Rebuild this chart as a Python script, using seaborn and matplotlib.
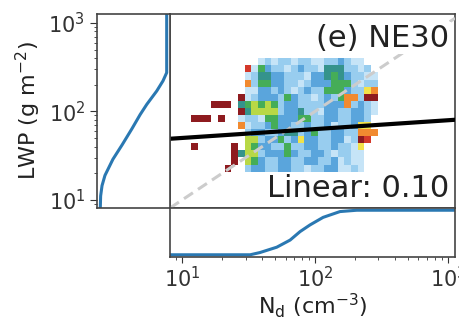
import numpy as np
import pandas as pd
import matplotlib
matplotlib.use("Agg")
import matplotlib.pyplot as plt
from matplotlib.colors import ListedColormap
import seaborn as sns

# ---- joint Nd-LWP histogram: bin edges in log10 units ----
nd_log_edges = [1.07 + 0.05 * k for k in range(29)]     # 28 Nd bins
lwp_log_edges = [1.32 + 0.08 * k for k in range(17)]    # 16 LWP bins

# cell levels, top LWP row first; '.' = empty bin
level_codes = "plbtgyYord"
cell_rows = [
    "........" + "..plpllpllppllblpp..",
    "........" + "rpgbllplbllptttllpl.",
    "........" + "plttbblllpbbtgtbllpp",
    "........" + "olggbbllplbbbggglpll",
    "........" + "ppbblblplbllgggbllYo",
    ".......d" + "plbbblgbllplblgooldd",
    "...ddd.t" + "gygyglbbllllbbbolblp",
    ".......d" + "tyyyylbbtllpbbllbblp",
    "ddd.d..p" + "llpggbbbggllbbllbbl.",
    ".......o" + "pllbgbbllbllbpllbYY.",
    "........" + "lbbllbttlbgllbbllooo",
    "........" + "yylbbglbYbbllbbpldr.",
    "d.....d." + "ygbbllgllbbllbllpY..",
    "......dt" + "yylbbbgbllbblpllpp..",
    "......d." + "ygbllbbllbbllbplpp..",
    ".....d.." + "lbbllbbllpllbbpplp..",
]
cell_colors = ["#c6e4f7", "#98cdef", "#5aa5dc", "#35938c", "#45ad57",
               "#b8d846", "#f2e24a", "#f18a30", "#d4382a", "#8e1b1f"]

# ---- marginal cumulative distributions ----
lwp_cdf_lwp = [8.2, 11.1, 14.5, 18.9, 28.8, 41.7, 63.8, 92.0, 120.0, 170.0, 221.0, 274.0, 1400.0]
lwp_cdf = [0.0, 0.005, 0.026, 0.07, 0.19, 0.327, 0.477, 0.60, 0.70, 0.85, 0.944, 1.0, 1.0]

nd_cdf_nd = [8.0, 32.5, 38.5, 51.5, 64.9, 77.1, 91.6, 115.0, 154.0, 206.0, 1500.0]
nd_cdf = [0.0, 0.0, 0.05, 0.17, 0.33, 0.52, 0.67, 0.84, 0.97, 1.0, 1.0]

# ---- log-log linear fit ----
fit_slope = 0.10
fit_intercept = 1.60   # log10(LWP) at Nd = 1

nd_lim = (8.1, 1130.0)
lwp_lim = (8.1, 1260.0)

# table of non-empty cells: bin centres with their level as weight
recs = []
for r, row in enumerate(cell_rows):
    if len(row) != len(nd_log_edges) - 1:
        raise ValueError(f"row {r} has {len(row)} cells")
    j = len(cell_rows) - 1 - r
    for i, ch in enumerate(row):
        if ch == ".":
            continue
        recs.append({
            "Nd": 10 ** (0.5 * (nd_log_edges[i] + nd_log_edges[i + 1])),
            "LWP": 10 ** (0.5 * (lwp_log_edges[j] + lwp_log_edges[j + 1])),
            "level": level_codes.index(ch) + 1,
        })
cells = pd.DataFrame(recs)

sns.set_style("ticks")
plt.rcParams.update({
    "font.family": ["DejaVu Sans"],
    "xtick.labelsize": 15,
    "ytick.labelsize": 15,
    "axes.labelsize": 16,
    "axes.edgecolor": "#444444",
    "axes.linewidth": 1.2,
    "text.color": "#222222",
    "axes.labelcolor": "#222222",
    "xtick.color": "#333333",
    "ytick.color": "#333333",
})

fig = plt.figure(figsize=(4.59, 3.21), dpi=100)
ax = fig.add_axes([0.3704, 0.352, 0.6209, 0.6044])
ax_l = fig.add_axes([0.2113, 0.352, 0.1591, 0.6044], sharey=ax)
ax_b = fig.add_axes([0.3704, 0.1994, 0.6209, 0.1526], sharex=ax)

cell_cmap = ListedColormap(cell_colors)
sns.histplot(data=cells, x="Nd", y="LWP", weights="level",
             bins=(list(nd_log_edges), list(lwp_log_edges)),
             log_scale=(True, True), cmap=cell_cmap, vmin=0.5, vmax=10.5,
             ax=ax, zorder=1)

# 1:1 reference line
ax.axline((10, 10), (100, 100), color="#cccccc", lw=2.2,
          ls=(0, (3.5, 2.0)), zorder=3)

# fitted power law
fit_nd = np.array(nd_lim)
fit_lwp = 10 ** (fit_intercept + fit_slope * np.log10(fit_nd))
sns.lineplot(x=fit_nd, y=fit_lwp, color="black", lw=3.0, ax=ax, zorder=4)

blue = "#2a78b2"
sns.lineplot(x=lwp_cdf, y=lwp_cdf_lwp, sort=False, estimator=None,
             color=blue, lw=2.2, ax=ax_l)
sns.lineplot(x=nd_cdf_nd, y=nd_cdf, sort=False, estimator=None,
             color=blue, lw=2.2, ax=ax_b)

ax.set_xlim(*nd_lim)
ax.set_ylim(*lwp_lim)
ax_l.set_xlim(-0.05, 1.05)
ax_b.set_ylim(-0.05, 1.05)

ax.set_xlabel("")
ax.set_ylabel("")
ax.tick_params(which="both", left=False, bottom=False,
               labelleft=False, labelbottom=False)
ax_l.tick_params(axis="x", which="both", bottom=False, labelbottom=False)
ax_l.tick_params(axis="y", which="major", length=5)
ax_l.tick_params(axis="y", which="minor", length=2.5)
ax_b.tick_params(axis="y", which="both", left=False, labelleft=False)
ax_b.tick_params(axis="x", which="major", length=4, pad=2.5)
ax_b.tick_params(axis="x", which="minor", length=2.5)
ax_l.set_xlabel("")
ax_l.set_ylabel(r"LWP (g m$^{-2}$)")
ax_b.set_ylabel("")
ax_b.set_xlabel(r"N$_\mathrm{d}$ (cm$^{-3}$)", labelpad=0)

ax.text(0.979, 0.95, "(e) NE30", transform=ax.transAxes, ha="right",
        va="top", fontsize=22, zorder=6,
        bbox=dict(fc="white", ec="none", pad=1.0))
ax.text(0.979, 0.055, f"Linear: {fit_slope:.2f}", transform=ax.transAxes,
        ha="right", va="baseline", fontsize=22, zorder=6,
        bbox=dict(fc="white", ec="none", pad=1.0))

fig.savefig("out.png", dpi=100)
